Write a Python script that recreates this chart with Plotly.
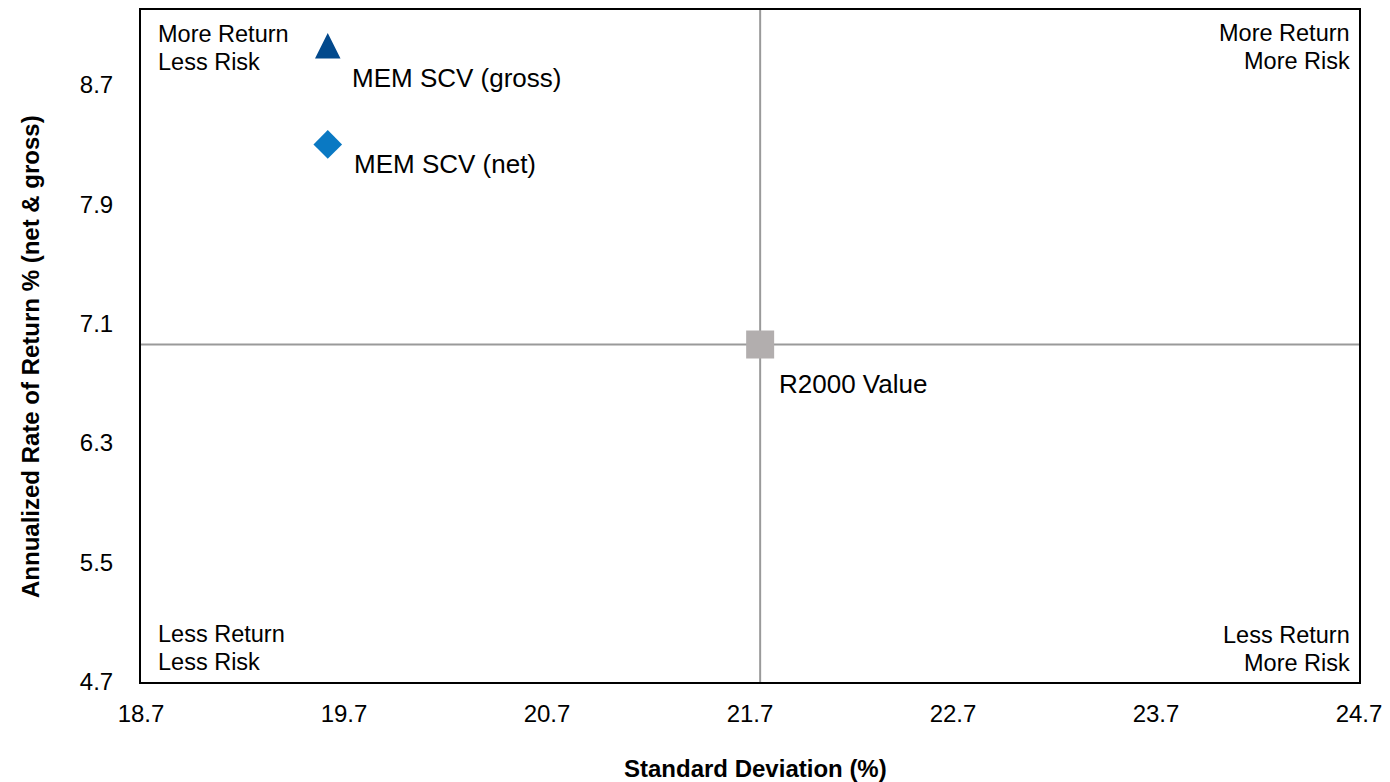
import plotly.graph_objects as go

# ---- data ----
names = ["MEM SCV (gross)", "MEM SCV (net)", "R2000 Value"]
std_dev = [19.62, 19.62, 21.75]
ann_return = [8.96, 8.30, 6.96]
symbols = ["arrow-down", "diamond", "square"]
angles = [180, 0, 0]
colors = ["#02498C", "#0A79C3", "#B2AEAE"]
sizes = [25.5, 22, 28]
standoffs = [12.75, 0, 0]
label_shift_x = [22, 24, 17]
label_shift_y = [-32, -20, -39]

x_ticks = [18.7, 19.7, 20.7, 21.7, 22.7, 23.7, 24.7]
y_ticks = [4.7, 5.5, 6.3, 7.1, 7.9, 8.7]
x_range = [18.7, 24.7]
y_range = [4.7, 9.2]

# benchmark crosshair at R2000 Value
bench_x = std_dev[2]
bench_y = ann_return[2]

FONT = "Liberation Sans, Arial, sans-serif"

fig = go.Figure()

# crosshair lines
fig.add_shape(type="line", x0=bench_x, x1=bench_x, y0=y_range[0], y1=y_range[1],
              xref="x", yref="y", line=dict(color="#9A9A9A", width=2), layer="below")
fig.add_shape(type="line", x0=x_range[0], x1=x_range[1], y0=bench_y, y1=bench_y,
              xref="x", yref="y", line=dict(color="#9A9A9A", width=2), layer="below")

for i, n in enumerate(names):
    fig.add_trace(go.Scatter(
        x=[std_dev[i]], y=[ann_return[i]], mode="markers", name=n,
        marker=dict(symbol=symbols[i], color=colors[i], size=sizes[i],
                    angle=angles[i], standoff=standoffs[i], line=dict(width=0)),
        showlegend=False, cliponaxis=False))
    fig.add_annotation(x=std_dev[i], y=ann_return[i], xref="x", yref="y",
                       text=n, showarrow=False, xanchor="left", yanchor="middle",
                       xshift=label_shift_x[i], yshift=label_shift_y[i],
                       font=dict(family=FONT, size=26, color="#000000"))

# quadrant corner texts (one annotation per line)
corner_lines = [
    ("More Return", 0, "left", 1, -23.5),
    ("Less Risk", 0, "left", 1, -51.5),
    ("More Return", 1, "right", 1, -23),
    ("More Risk", 1, "right", 1, -51),
    ("Less Return", 0, "left", 0, 48),
    ("Less Risk", 0, "left", 0, 20),
    ("Less Return", 1, "right", 0, 47),
    ("More Risk", 1, "right", 0, 19),
]
for txt, xp, xa, yp, ys in corner_lines:
    fig.add_annotation(x=xp, y=yp, xref="paper", yref="paper", text=txt,
                       showarrow=False, xanchor=xa, yanchor="middle",
                       xshift=15 if xa == "left" else -7, yshift=ys,
                       font=dict(family=FONT, size=23.5, color="#000000"))

# axis titles
fig.add_annotation(x=0.5, y=0, xref="paper", yref="paper", text="<b>Standard Deviation (%)</b>",
                   showarrow=False, xanchor="center", yanchor="middle", xshift=5, yshift=-86,
                   font=dict(family=FONT, size=24, color="#000000"))
fig.add_annotation(x=0, y=0.5, xref="paper", yref="paper",
                   text="<b>Annualized Rate of Return % (net &amp; gross)</b>",
                   showarrow=False, xanchor="center", yanchor="middle", textangle=-90,
                   xshift=-111, yshift=-11,
                   font=dict(family=FONT, size=24, color="#000000"))

fig.update_layout(
    width=1390, height=782,
    margin=dict(l=141, r=27, t=8, b=100),
    paper_bgcolor="white", plot_bgcolor="white",
    font=dict(family=FONT, size=24, color="#000000"),
    xaxis=dict(range=x_range, tickvals=x_ticks, ticktext=[f"{v:.1f}" for v in x_ticks],
               showgrid=False, zeroline=False, showline=True, mirror=True,
               linecolor="#000000", linewidth=2, ticks="", ticklabelstandoff=9,
               tickfont=dict(family=FONT, size=24, color="#000000")),
    yaxis=dict(range=y_range, tickvals=y_ticks, ticktext=[f"{v:.1f}" for v in y_ticks],
               showgrid=False, zeroline=False, showline=True, mirror=True,
               linecolor="#000000", linewidth=2, ticks="", ticklabelstandoff=21,
               tickfont=dict(family=FONT, size=24, color="#000000")),
)

fig.write_html("out.html")
